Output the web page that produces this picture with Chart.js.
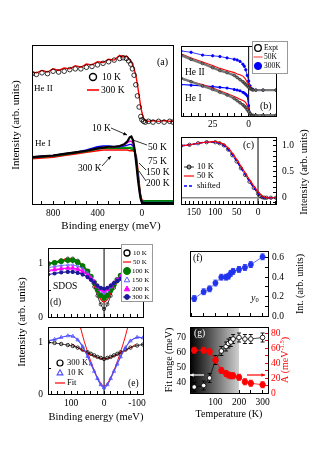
<!DOCTYPE html>
<html>
<head>
<meta charset="utf-8">
<script src="https://cdn.jsdelivr.net/npm/chart.js@4.4.1/dist/chart.umd.min.js"></script>
<style>
  html, body { margin: 0; padding: 0; background: #fff; }
  #wrap { position: relative; width: 317px; height: 454px; overflow: hidden; }
  #wrap canvas { position: absolute; left: 0; top: 0; pointer-events: none; }
</style>
</head>
<body>
<div id="wrap">
  <canvas id="pa" width="317" height="454"></canvas>
  <canvas id="pb" width="317" height="454"></canvas>
  <canvas id="pc" width="317" height="454"></canvas>
  <canvas id="pd" width="317" height="454"></canvas>
  <canvas id="pe" width="317" height="454"></canvas>
  <canvas id="pf" width="317" height="454"></canvas>
  <canvas id="pg" width="317" height="454"></canvas>
</div>
<script>
const W = 317, H = 454;
const AX = 24; // fixed room given to every visible axis
const SERIF = '"Liberation Serif","DejaVu Serif",serif';

// (a) wide range spectra, He II and He I
const aEnergyHe2 = [990,950,900,850,800,750,700,650,600,550,500,450,400,350,300,250,200,170,140,120,100,85,70,55,40,25,10,0,-15,-30,-60,-100,-150,-200,-250,-280];
const aHe2_10K  = [1.64,1.63,1.65,1.64,1.67,1.66,1.67,1.69,1.70,1.70,1.72,1.73,1.75,1.77,1.79,1.81,1.83,1.84,1.83,1.80,1.76,1.70,1.62,1.50,1.36,1.22,1.10,1.06,1.04,1.03,1.04,1.03,1.04,1.03,1.04,1.03];
const aHe2_300K = [1.66,1.65,1.68,1.66,1.70,1.68,1.71,1.70,1.74,1.72,1.76,1.75,1.79,1.78,1.82,1.81,1.87,1.85,1.86,1.83,1.80,1.76,1.70,1.62,1.50,1.36,1.22,1.15,1.08,1.05,1.04,1.05,1.04,1.05,1.04,1.04];
const aEnergyHe1 = [990,900,800,700,600,500,400,350,300,250,200,160,130,110,95,80,65,50,35,20,10,0,-15,-40,-100,-200,-280];
const aHe1_10K  = [0.59,0.60,0.61,0.63,0.65,0.67,0.70,0.71,0.72,0.72,0.73,0.75,0.79,0.84,0.85,0.80,0.68,0.50,0.30,0.14,0.06,0.02,0.01,0.01,0.01,0.01,0.01];
const aHe1_50K  = [0.59,0.60,0.61,0.63,0.65,0.67,0.70,0.71,0.72,0.72,0.73,0.74,0.77,0.79,0.79,0.76,0.67,0.52,0.32,0.15,0.06,0.02,0.01,0.01,0.01,0.01,0.01];
const aHe1_75K  = [0.59,0.60,0.61,0.63,0.65,0.68,0.72,0.73,0.73,0.72,0.72,0.73,0.74,0.75,0.75,0.73,0.67,0.54,0.34,0.16,0.07,0.03,0.02,0.02,0.02,0.02,0.02];
const aHe1_150K = [0.59,0.60,0.61,0.63,0.65,0.67,0.70,0.71,0.71,0.71,0.71,0.71,0.71,0.71,0.71,0.70,0.66,0.56,0.36,0.17,0.07,0.03,0.03,0.03,0.03,0.03,0.03];
const aHe1_200K = [0.58,0.59,0.60,0.62,0.64,0.66,0.69,0.70,0.70,0.70,0.70,0.70,0.70,0.70,0.69,0.68,0.65,0.57,0.38,0.18,0.08,0.04,0.04,0.04,0.04,0.04,0.04];
const aHe1_300K = [0.57,0.58,0.59,0.61,0.63,0.65,0.67,0.68,0.68,0.68,0.68,0.68,0.68,0.67,0.67,0.67,0.66,0.60,0.42,0.20,0.09,0.05,0.04,0.04,0.04,0.04,0.04];
const aTickLabels = [800, 400, 0];

// (b) near E_F
const bEnergy = [47,40,32,25,20,15,10,8,6,4,3,2,1,0,-1,-2,-3,-5,-10,-19];
const bHe2Expt = [0.87,0.81,0.75,0.69,0.65,0.62,0.58,0.55,0.52,0.49,0.47,0.45,0.43,0.41,0.39,0.38,0.37,0.37,0.37,0.37];
const bHe2_50K = [0.89,0.83,0.77,0.72,0.68,0.65,0.62,0.60,0.59,0.57,0.55,0.52,0.48,0.45,0.42,0.39,0.38,0.37,0.37,0.37];
const bHe2_300K = [0.93,0.91,0.87,0.86,0.85,0.83,0.81,0.80,0.78,0.74,0.71,0.66,0.58,0.50,0.43,0.39,0.38,0.37,0.37,0.37];
const bHe1Expt = [0.54,0.49,0.43,0.38,0.34,0.30,0.25,0.22,0.19,0.16,0.14,0.12,0.09,0.06,0.03,0.01,0.01,0.01,0.01,0.01];
const bHe1_50K = [0.53,0.49,0.45,0.40,0.36,0.32,0.28,0.26,0.24,0.22,0.21,0.19,0.15,0.10,0.05,0.02,0.01,0.01,0.01,0.01];
const bHe1_300K = [0.45,0.44,0.43,0.42,0.41,0.40,0.38,0.37,0.36,0.34,0.33,0.31,0.29,0.15,0.04,0.01,0.01,0.01,0.01,0.01];
const bTickLabels = [25, 0];

// (c) leading edge
const cEnergy = [180,160,140,120,100,90,80,70,60,50,40,30,20,10,0,-5,-10,-15,-20,-30,-42];
const c10K = [1.00,1.02,1.05,1.07,1.07,1.05,1.01,0.93,0.82,0.70,0.57,0.44,0.31,0.19,0.08,0.04,0.01,0,0,0,0];
const c50K = [1.00,1.02,1.05,1.07,1.08,1.06,1.03,0.96,0.86,0.74,0.61,0.48,0.35,0.23,0.12,0.07,0.03,0.01,0,0,0];
const cShifted = [1.00,1.02,1.05,1.07,1.07,1.05,1.01,0.93,0.83,0.71,0.58,0.45,0.32,0.20,0.09,0.05,0.02,0,0,0,0];
const cTickLabels = [150, 100, 50, 0];
const cIntLabels = [0, 0.5, 1];

// (d) SDOS and (e) fits
const dEnergy = [170,150,130,110,95,80,65,50,40,30,20,10,0,-10,-20,-30,-40,-50,-65,-80,-100,-118];
const d10K  = [1.00,1.03,1.07,1.10,1.10,1.06,0.97,0.84,0.72,0.57,0.40,0.24,0.15,0.24,0.40,0.55,0.67,0.77,0.88,0.97,1.03,1.05];
const d50K  = [1.00,1.03,1.07,1.10,1.09,1.05,0.97,0.85,0.74,0.61,0.46,0.33,0.28,0.33,0.45,0.57,0.68,0.77,0.88,0.96,1.02,1.04];
const d100K = [1.00,1.02,1.05,1.07,1.07,1.03,0.96,0.86,0.76,0.65,0.52,0.41,0.36,0.41,0.51,0.61,0.70,0.78,0.88,0.95,1.00,1.02];
const d150K = [0.93,0.95,0.97,0.98,0.98,0.96,0.91,0.83,0.75,0.67,0.57,0.49,0.45,0.49,0.56,0.64,0.71,0.77,0.85,0.91,0.95,0.96];
const d200K = [0.88,0.89,0.91,0.92,0.92,0.90,0.86,0.79,0.73,0.66,0.58,0.52,0.49,0.52,0.58,0.64,0.70,0.75,0.82,0.87,0.90,0.91];
const d300K = [0.80,0.82,0.84,0.85,0.85,0.83,0.80,0.75,0.70,0.65,0.59,0.55,0.53,0.55,0.59,0.64,0.68,0.72,0.78,0.82,0.85,0.86];
const e300K = [1.00,0.99,0.97,0.95,0.93,0.90,0.86,0.81,0.78,0.75,0.72,0.70,0.68,0.70,0.72,0.75,0.78,0.81,0.86,0.90,0.94,0.96];
const e10K  = [1.03,1.06,1.10,1.13,1.12,1.05,0.92,0.73,0.58,0.44,0.30,0.18,0.12,0.18,0.30,0.44,0.58,0.72,0.90,1.03,1.10,1.09];
const eFitEnergy10K = [72,60,45,30,15,0,-15,-30,-45,-60,-72];
const eFit10K = [1.30,1.02,0.72,0.46,0.26,0.15,0.26,0.46,0.72,1.02,1.30];
const eFitEnergy300K = [100,75,50,25,0,-25,-50,-75,-95];
const eFit300K = [0.98,0.88,0.79,0.72,0.68,0.72,0.79,0.88,0.96];
const eTickLabels = [100, 0, -100];
const deIntLabels = [0, 1];

// (f) y0 and (g) fit range / A versus temperature
const fTemp = [10,50,75,100,125,145,155,165,175,200,225,250,300];
const fY0 = [0.18,0.25,0.28,0.34,0.40,0.40,0.41,0.44,0.46,0.48,0.50,0.53,0.61];
const fY0Err = [0.03,0.03,0.03,0.03,0.03,0.03,0.03,0.03,0.03,0.03,0.03,0.03,0.03];
const gFitRange = [37,38,43,55,61,64,66,67,69,70,69,69,70];
const gFitRangeErr = [3,3,3,3,3,3,3,3,3,3,3,3,3];
const gA = [57,57,55,44,30,26,24,23,23,21,15,13,11];
const gAErr = [4,4,4,4,4,4,4,4,4,4,4,4,4];
const fIntLabels = [0, 0.2, 0.4, 0.6];
const gTempLabels = [100, 200, 300];
const gRangeLabels = [40, 50, 60, 70];
const gALabels = [0, 20, 40, 60, 80];

const RED = '#ff0000', BLUE = '#0000ff';

function pts(xs, ys) { return xs.map((x, i) => ({ x, y: ys[i] })); }

function line(xs, ys, color, width, extra) {
  return Object.assign({ data: pts(xs, ys), showLine: true, borderColor: color, borderWidth: width, pointRadius: 0, fill: false }, extra || {});
}

function marks(xs, ys, color, r, filled, style, extra) {
  return Object.assign({
    data: pts(xs, ys), showLine: false, pointStyle: style || 'circle', pointRadius: r,
    pointBorderColor: color, pointBorderWidth: 0.8,
    pointBackgroundColor: filled ? color : 'rgba(0,0,0,0)', borderColor: color
  }, extra || {});
}

// linear axis, inward ticks, labels only on the listed values
function ax(o) {
  const majors = o.majors || [];
  const col = o.color || '#000';
  const shown = o.display !== false;
  return {
    type: 'linear', position: o.position, min: o.min, max: o.max, reverse: !!o.reverse,
    display: shown,
    afterFit(s) {
      const size = shown ? AX : 0;
      if (s.isHorizontal()) s.height = size; else s.width = size;
      s.paddingLeft = s.paddingRight = s.paddingTop = s.paddingBottom = 0;
    },
    afterBuildTicks(s) {
      const vals = [];
      if (o.step) {
        const start = Math.ceil(o.min / o.step) * o.step;
        for (let v = start; v <= o.max + 1e-9; v += o.step) vals.push(Math.round(v * 1000) / 1000);
      }
      majors.forEach(v => { if (!vals.includes(v)) vals.push(v); });
      vals.sort((a, b) => a - b);
      s.ticks = vals.map(v => ({ value: v }));
    },
    ticks: {
      autoSkip: false, maxRotation: 0, minRotation: 0, padding: o.pad ?? 6, color: col,
      font: { family: SERIF, size: 9.5 },
      callback: v => majors.includes(v) ? (o.fmt ? o.fmt(v) : String(v)) : ''
    },
    grid: { display: true, drawOnChartArea: false, drawTicks: true, tickLength: -3, tickColor: col, tickWidth: 1 },
    border: { display: false }
  };
}

function marker(ctx, m, x, y) {
  ctx.save();
  ctx.lineWidth = m.lw || 1;
  ctx.strokeStyle = m.color;
  ctx.fillStyle = m.color;
  ctx.beginPath();
  if (m.shape === 'tri') {
    const r = m.r;
    ctx.moveTo(x, y - r); ctx.lineTo(x + r * 0.9, y + r * 0.6); ctx.lineTo(x - r * 0.9, y + r * 0.6); ctx.closePath();
  } else {
    ctx.arc(x, y, m.r, 0, Math.PI * 2);
  }
  if (m.fill) ctx.fill();
  ctx.stroke();
  ctx.restore();
}

function rich(ctx, t) {
  const parts = t.parts || [{ s: t.s }];
  const size = t.size || 9.5;
  ctx.save();
  ctx.translate(t.x, t.y);
  if (t.rot) ctx.rotate(t.rot * Math.PI / 180);
  ctx.fillStyle = t.color || '#000';
  ctx.textBaseline = 'middle';
  const fontOf = p => (p.italic || t.italic ? 'italic ' : '') + (p.size || size) + 'px ' + SERIF;
  let w = 0;
  parts.forEach(p => { ctx.font = fontOf(p); w += ctx.measureText(p.s).width; });
  let x = t.align === 'center' ? -w / 2 : t.align === 'right' ? -w : 0;
  parts.forEach(p => { ctx.font = fontOf(p); ctx.fillText(p.s, x, p.dy || 0); x += ctx.measureText(p.s).width; });
  ctx.restore();
}

function seg(ctx, a) {
  ctx.save();
  ctx.strokeStyle = a.color || '#000';
  ctx.fillStyle = a.color || '#000';
  ctx.lineWidth = a.width || 0.8;
  if (a.dash) ctx.setLineDash(a.dash);
  ctx.beginPath(); ctx.moveTo(a.x1, a.y1); ctx.lineTo(a.x2, a.y2); ctx.stroke();
  if (a.head) {
    const ang = Math.atan2(a.y2 - a.y1, a.x2 - a.x1), L = a.head;
    ctx.setLineDash([]);
    ctx.beginPath();
    ctx.moveTo(a.x2, a.y2);
    ctx.lineTo(a.x2 - L * Math.cos(ang - 0.45), a.y2 - L * Math.sin(ang - 0.45));
    ctx.lineTo(a.x2 - L * Math.cos(ang + 0.45), a.y2 - L * Math.sin(ang + 0.45));
    ctx.closePath(); ctx.fill();
  }
  ctx.restore();
}

function makeDeco(cfg) {
  return {
    id: 'deco',
    beforeDatasetsDraw(chart) {
      const { ctx, chartArea: a } = chart;
      if (cfg.shade) {
        const xe = chart.scales.x.getPixelForValue(cfg.shade.until);
        const g = ctx.createLinearGradient(a.left, 0, xe, 0);
        g.addColorStop(0, cfg.shade.from);
        g.addColorStop(1, cfg.shade.to);
        ctx.save(); ctx.fillStyle = g; ctx.fillRect(a.left, a.top, xe - a.left, a.bottom - a.top); ctx.restore();
      }
      (cfg.refs || []).forEach(r => {
        ctx.save(); ctx.strokeStyle = r.color; ctx.lineWidth = r.width || 1; ctx.beginPath();
        if (r.axis === 'x') {
          const p = chart.scales.x.getPixelForValue(r.value);
          ctx.moveTo(p, a.top); ctx.lineTo(p, a.bottom);
        } else {
          const p = chart.scales[r.scale || 'y'].getPixelForValue(r.value);
          ctx.moveTo(a.left, p); ctx.lineTo(a.right, p);
        }
        ctx.stroke(); ctx.restore();
      });
    },
    afterDraw(chart) {
      const { ctx, chartArea: a } = chart;
      ctx.save();
      ctx.strokeStyle = cfg.frameColor || '#000';
      ctx.lineWidth = 1;
      ctx.strokeRect(Math.round(a.left) + 0.5, Math.round(a.top) + 0.5, Math.round(a.right - a.left), Math.round(a.bottom - a.top));
      ctx.restore();
      if (cfg.box) {
        const [x, y, w, h] = cfg.box;
        ctx.save(); ctx.fillStyle = '#fff'; ctx.strokeStyle = '#999'; ctx.lineWidth = 1;
        ctx.fillRect(x, y, w, h); ctx.strokeRect(x + 0.5, y + 0.5, w, h); ctx.restore();
      }
      (cfg.keys || []).forEach(k => {
        if (k.line) seg(ctx, Object.assign({ x1: k.x - k.line.len / 2, x2: k.x + k.line.len / 2, y1: k.y, y2: k.y }, k.line));
        if (k.mark) marker(ctx, k.mark, k.x, k.y);
      });
      (cfg.arrows || []).forEach(s => seg(ctx, s));
      (cfg.texts || []).forEach(t => rich(ctx, t));
    }
  };
}

const errorBars = {
  id: 'errorBars',
  beforeDatasetDraw(chart, args) {
    const ds = chart.data.datasets[args.index];
    if (!ds.errs) return;
    const ys = chart.scales[ds.yAxisID || 'y'];
    const ctx = chart.ctx;
    ctx.save();
    ctx.strokeStyle = ds.borderColor;
    ctx.lineWidth = 0.9;
    args.meta.data.forEach((pt, i) => {
      const v = ds.data[i].y, e = ds.errs[i];
      const y1 = ys.getPixelForValue(v - e), y2 = ys.getPixelForValue(v + e);
      ctx.beginPath();
      ctx.moveTo(pt.x, y1); ctx.lineTo(pt.x, y2);
      ctx.moveTo(pt.x - 2, y1); ctx.lineTo(pt.x + 2, y1);
      ctx.moveTo(pt.x - 2, y2); ctx.lineTo(pt.x + 2, y2);
      ctx.stroke();
    });
    ctx.restore();
  }
};

// box = plot area [left, top, right, bottom] in page pixels
function panel(id, box, scales, datasets, deco) {
  const pad = { left: box[0], top: box[1], right: W - box[2], bottom: H - box[3] };
  Object.values(scales).forEach(s => { if (s.display) pad[s.position] -= AX; });
  return new Chart(document.getElementById(id), {
    type: 'scatter',
    data: { datasets },
    options: {
      responsive: false, animation: false, devicePixelRatio: 1,
      layout: { padding: pad },
      scales,
      plugins: { legend: { display: false }, tooltip: { enabled: false } }
    },
    plugins: [errorBars, makeDeco(deco)]
  });
}

// ---------- (a)
panel('pa', [32, 45, 173, 204], {
  x: ax({ position: 'bottom', min: -280, max: 990, reverse: true, step: 100, majors: aTickLabels, pad: 7 }),
  y: ax({ position: 'left', min: 0, max: 2, display: false })
}, [
  marks(aEnergyHe2, aHe2_10K, '#000', 2.3, false),
  line(aEnergyHe2, aHe2_300K, RED, 1.4),
  line(aEnergyHe1, aHe1_10K, '#000', 2.2),
  line(aEnergyHe1, aHe1_50K, '#ff00ff', 1.4),
  line(aEnergyHe1, aHe1_75K, BLUE, 1.4),
  line(aEnergyHe1, aHe1_150K, '#00a000', 1.6),
  line(aEnergyHe1, aHe1_200K, '#007000', 1.4),
  line(aEnergyHe1, aHe1_300K, RED, 1.6)
], {
  keys: [
    { x: 93, y: 77, mark: { r: 3.5, color: '#000', lw: 1.4 } },
    { x: 93, y: 90, line: { len: 12, color: RED, width: 1.6 } }
  ],
  arrows: [
    { x1: 111, y1: 128, x2: 127, y2: 135, head: 4 },
    { x1: 147, y1: 145, x2: 133, y2: 140 },
    { x1: 146, y1: 170, x2: 139, y2: 163 },
    { x1: 146, y1: 181, x2: 139, y2: 171 },
    { x1: 102, y1: 166, x2: 111, y2: 156, head: 4 }
  ],
  texts: [
    { s: '(a)', x: 157, y: 62, size: 10 },
    { s: 'He II', x: 34, y: 89, size: 9 },
    { s: 'He I', x: 35, y: 144, size: 9 },
    { s: '10 K', x: 102, y: 77, size: 9.5 },
    { s: '300 K', x: 101, y: 90, size: 9.5 },
    { s: '10 K', x: 92, y: 128, size: 9.5 },
    { s: '50 K', x: 148, y: 147, size: 9.5 },
    { s: '75 K', x: 148, y: 161, size: 9.5 },
    { s: '150 K', x: 146, y: 172, size: 9.5 },
    { s: '200 K', x: 146, y: 183, size: 9.5 },
    { s: '300 K', x: 78, y: 168, size: 9.5 },
    { s: 'Binding energy (meV)', x: 111, y: 226, size: 11, align: 'center' },
    { s: 'Intensity (arb. units)', x: 16, y: 125, size: 11, align: 'center', rot: -90 }
  ]
});

// ---------- (b)
panel('pb', [181, 46, 276, 116], {
  x: ax({ position: 'bottom', min: -19, max: 47, reverse: true, step: 5, majors: bTickLabels, pad: 6 }),
  y: ax({ position: 'left', min: 0, max: 1, display: false })
}, [
  line(bEnergy, bHe2Expt, '#777', 2.4, { pointRadius: 1.4, pointBorderColor: '#222', pointBorderWidth: 0.6, pointBackgroundColor: 'rgba(0,0,0,0)' }),
  line(bEnergy, bHe1Expt, '#777', 2.4, { pointRadius: 1.4, pointBorderColor: '#222', pointBorderWidth: 0.6, pointBackgroundColor: 'rgba(0,0,0,0)' }),
  line(bEnergy, bHe2_50K, RED, 1.1),
  line(bEnergy, bHe1_50K, RED, 1.1),
  line(bEnergy, bHe2_300K, BLUE, 0.8, { pointRadius: 1.2, pointBackgroundColor: BLUE, pointBorderColor: BLUE }),
  line(bEnergy, bHe1_300K, BLUE, 1.2, { pointRadius: 0.9, pointBackgroundColor: BLUE, pointBorderColor: BLUE })
], {
  refs: [{ axis: 'x', value: 0, color: '#000', width: 1 }],
  box: [252, 41, 35, 32],
  keys: [
    { x: 258, y: 48, mark: { r: 3.3, color: '#000', lw: 1.3 } },
    { x: 258, y: 57, line: { len: 9, color: '#ff6060', width: 1.3 } },
    { x: 258, y: 66, mark: { r: 3.6, color: BLUE, fill: true } }
  ],
  texts: [
    { s: 'Expt', x: 264, y: 48, size: 7.5 },
    { s: '50K', x: 264, y: 57, size: 7.5 },
    { s: '300K', x: 264, y: 66, size: 7.5 },
    { s: 'He II', x: 185, y: 72, size: 9.5 },
    { s: 'He I', x: 185, y: 98, size: 9.5 },
    { s: '(b)', x: 260, y: 106, size: 10 }
  ]
});

// ---------- (c)
panel('pc', [181, 137, 276, 204], {
  x: ax({ position: 'bottom', min: -42, max: 180, reverse: true, step: 10, majors: cTickLabels, pad: 6 }),
  y: ax({ position: 'right', min: -0.12, max: 1.17, step: 0.1, majors: cIntLabels, pad: 9, fmt: v => v === 0 ? '0' : v.toFixed(1) })
}, [
  line(cEnergy, c50K, RED, 1.2, { tension: 0.3 }),
  line(cEnergy, cShifted, BLUE, 1.6, { tension: 0.3, borderDash: [4, 2] }),
  line(cEnergy, c10K, '#000', 0.6, { tension: 0.3, pointRadius: 1.7, pointBorderColor: '#000', pointBorderWidth: 0.7, pointBackgroundColor: 'rgba(0,0,0,0)' })
], {
  refs: [{ axis: 'x', value: 0, color: '#000', width: 1 }, { axis: 'y', value: 0, color: '#888', width: 1.5 }],
  keys: [
    { x: 189, y: 167, line: { len: 10, color: '#000', width: 0.8 }, mark: { r: 2, color: '#000', lw: 1 } },
    { x: 189, y: 176, line: { len: 10, color: RED, width: 1.2 } },
    { x: 189, y: 186, line: { len: 10, color: BLUE, width: 1.6, dash: [3, 2] } }
  ],
  texts: [
    { s: '10 K', x: 197, y: 167, size: 8.5 },
    { s: '50 K', x: 197, y: 176, size: 8.5 },
    { s: 'shifted', x: 197, y: 186, size: 8.5 },
    { s: '(c)', x: 243, y: 145, size: 10 },
    { s: 'Intensity (arb. units)', x: 304, y: 172, size: 10.5, align: 'center', rot: -90 }
  ]
});

// ---------- (d)
panel('pd', [48, 248, 143, 317], {
  x: ax({ position: 'bottom', min: -118, max: 170, reverse: true, step: 20 }),
  y: ax({ position: 'left', min: 0, max: 1.3, step: 0.5, majors: deIntLabels, pad: 8 })
}, [
  line(dEnergy, d300K, '#1a1a9a', 1.2, { tension: 0.3, pointRadius: 1.5, pointBackgroundColor: '#1a1a9a', pointBorderColor: '#1a1a9a' }),
  line(dEnergy, d200K, '#ff00ff', 1.4, { tension: 0.3, pointStyle: 'triangle', pointRadius: 1.8, pointBackgroundColor: '#ff00ff', pointBorderColor: '#ff00ff' }),
  line(dEnergy, d150K, '#6a6aff', 1, { tension: 0.3, pointStyle: 'triangle', pointRadius: 1.8, pointBackgroundColor: 'rgba(0,0,0,0)', pointBorderColor: '#6a6aff', pointBorderWidth: 0.7 }),
  line(dEnergy, d100K, '#007a00', 2, { tension: 0.3, pointRadius: 1.8, pointBackgroundColor: '#007a00', pointBorderColor: '#007a00' }),
  line(dEnergy, d50K, RED, 1.3, { tension: 0.3 }),
  line(dEnergy, d10K, '#000', 0.8, { tension: 0.3, pointRadius: 1.6, pointBorderColor: '#000', pointBorderWidth: 0.7, pointBackgroundColor: 'rgba(0,0,0,0)' })
], {
  refs: [{ axis: 'x', value: 0, color: '#000', width: 1 }],
  box: [121, 244, 31, 57],
  keys: [
    { x: 127, y: 253, mark: { r: 3, color: '#000', lw: 1.3 } },
    { x: 127, y: 262, line: { len: 8, color: RED, width: 1.2 } },
    { x: 127, y: 271, mark: { r: 3.5, color: '#007a00', fill: true } },
    { x: 127, y: 280, mark: { r: 3, color: '#5a5aff', lw: 1, shape: 'tri' } },
    { x: 127, y: 289, mark: { r: 3, color: '#ff00ff', fill: true, shape: 'tri' } },
    { x: 127, y: 297, line: { len: 8, color: '#1a1a9a', width: 1 }, mark: { r: 2.4, color: '#1a1a9a', fill: true } }
  ],
  texts: [
    { s: '10 K', x: 133, y: 253, size: 7 },
    { s: '50 K', x: 133, y: 262, size: 7 },
    { s: '100 K', x: 132, y: 271, size: 7 },
    { s: '150 K', x: 132, y: 280, size: 7 },
    { s: '200 K', x: 132, y: 289, size: 7 },
    { s: '300 K', x: 132, y: 297, size: 7 },
    { s: 'SDOS', x: 53, y: 286, size: 9.5 },
    { s: '(d)', x: 50, y: 302, size: 9.5 },
    { s: 'Intensity (arb. units)', x: 22, y: 322, size: 11, align: 'center', rot: -90 }
  ]
});

// ---------- (e)
panel('pe', [48, 327, 143, 394], {
  x: ax({ position: 'bottom', min: -118, max: 170, reverse: true, step: 20, majors: eTickLabels, pad: 7 }),
  y: ax({ position: 'left', min: 0, max: 1.3, step: 0.5, majors: deIntLabels, pad: 8 })
}, [
  line(dEnergy, e10K, '#4a4aff', 1.2, { tension: 0.3, pointStyle: 'triangle', pointRadius: 2, pointBackgroundColor: 'rgba(0,0,0,0)', pointBorderColor: '#4a4aff', pointBorderWidth: 0.8 }),
  line(dEnergy, e300K, '#000', 0.8, { tension: 0.3, pointRadius: 1.7, pointBorderColor: '#000', pointBorderWidth: 0.8, pointBackgroundColor: 'rgba(0,0,0,0)' }),
  line(eFitEnergy10K, eFit10K, RED, 1, { tension: 0.3 }),
  line(eFitEnergy300K, eFit300K, RED, 1, { tension: 0.3 })
], {
  refs: [{ axis: 'x', value: 0, color: '#000', width: 1 }],
  keys: [
    { x: 60, y: 363, mark: { r: 3, color: '#000', lw: 1.2 } },
    { x: 60, y: 373, mark: { r: 3.2, color: '#4a4aff', lw: 1.1, shape: 'tri' } },
    { x: 60, y: 383, line: { len: 10, color: RED, width: 1.2 } }
  ],
  texts: [
    { s: '300 K', x: 67, y: 363, size: 8.5 },
    { s: '10 K', x: 67, y: 373, size: 8.5 },
    { s: 'Fit', x: 67, y: 383, size: 8.5 },
    { s: '(e)', x: 128, y: 383, size: 9.5 },
    { s: 'Binding energy (meV)', x: 96, y: 417, size: 10.5, align: 'center' }
  ]
});

// ---------- (f)
panel('pf', [190, 251, 268, 316], {
  x: ax({ position: 'bottom', min: -8, max: 323, step: 50 }),
  y: ax({ position: 'right', min: 0, max: 0.67, step: 0.1, majors: fIntLabels, pad: 7, fmt: v => v.toFixed(1) })
}, [
  line(fTemp, fY0, '#2233ee', 0.7, { errs: fY0Err, pointRadius: 2.6, pointBackgroundColor: '#2233ee', pointBorderColor: '#2233ee' })
], {
  texts: [
    { s: '(f)', x: 193, y: 258, size: 9.5 },
    { parts: [{ s: 'y', italic: true }, { s: '0', size: 6.5, dy: 2.5 }], x: 251, y: 298, size: 10 },
    { s: 'Int. (arb. units)', x: 300, y: 284, size: 10, align: 'center', rot: -90 }
  ]
});

// ---------- (g)
panel('pg', [190, 327, 268, 393], {
  x: ax({ position: 'bottom', min: -8, max: 323, step: 50, majors: gTempLabels, pad: 7 }),
  y: ax({ position: 'left', min: 33, max: 77, step: 5, majors: gRangeLabels, pad: 7 }),
  y2: ax({ position: 'right', min: 0, max: 88, step: 10, majors: gALabels, color: RED, pad: 6 })
}, [
  line(fTemp, gA, RED, 0.8, { yAxisID: 'y2', errs: gAErr, pointRadius: 2.8, pointBackgroundColor: RED, pointBorderColor: RED }),
  line(fTemp, gFitRange, '#000', 0.7, { errs: gFitRangeErr, pointRadius: 2.3, pointBackgroundColor: '#fff', pointBorderColor: '#000', pointBorderWidth: 0.8 })
], {
  shade: { until: 200, from: '#000', to: '#cfcfcf' },
  arrows: [
    { x1: 204, y1: 375, x2: 190, y2: 375, color: '#fff', width: 1.2, head: 4 },
    { x1: 247, y1: 375, x2: 265, y2: 375, color: RED, width: 1.2, head: 4 }
  ],
  texts: [
    { s: '(g)', x: 194, y: 333, size: 9.5, color: '#fff' },
    { s: 'Fit range (meV)', x: 169, y: 360, size: 10, align: 'center', rot: -90 },
    { parts: [{ s: 'A (meV' }, { s: '-1.5', size: 6.5, dy: -3 }, { s: ')' }], x: 285, y: 360, size: 10, align: 'center', rot: -90, color: RED },
    { s: 'Temperature (K)', x: 229, y: 414, size: 10, align: 'center' }
  ]
});
</script>
</body>
</html>
